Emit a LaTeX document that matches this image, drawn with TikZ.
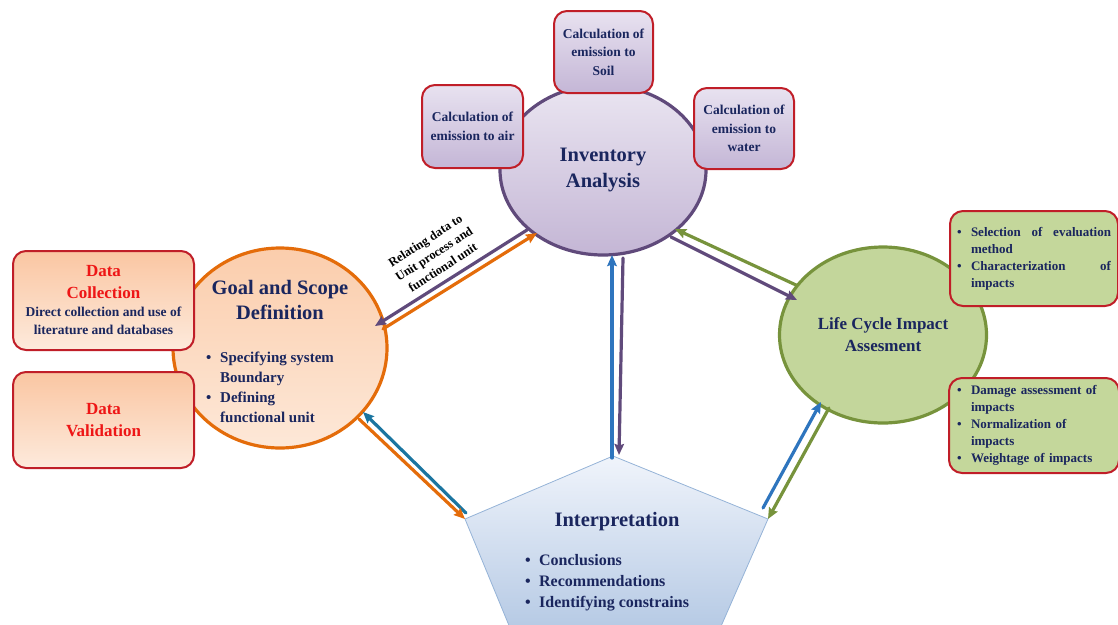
\documentclass[tikz,border=0pt]{standalone}
\usepackage{fontspec}
\setmainfont{Liberation Serif}
\usetikzlibrary{shapes.geometric,arrows.meta}
\definecolor{navytxt}{RGB}{26,38,94}
\definecolor{boxred}{RGB}{192,30,40}
\definecolor{datared}{RGB}{238,22,22}
\definecolor{goalorange}{RGB}{228,108,10}
\definecolor{invpurple}{RGB}{96,74,123}
\definecolor{lcagreen}{RGB}{119,147,60}
\definecolor{arrblue}{RGB}{46,117,190}
\definecolor{arrteal}{RGB}{27,117,160}
\definecolor{penborder}{RGB}{149,179,215}
\newcommand{\bul}{\makebox[14pt][l]{\textbullet}}
\newcommand{\bulsp}{\hspace*{14pt}}

\begin{document}
\begin{tikzpicture}[x=1pt,y=-1pt,line cap=round,line join=round,
	redbox/.style={draw=boxred,line width=2pt,rounded corners=13pt,anchor=north west,inner sep=0pt,align=center,text=navytxt},
	invbox/.style={redbox,top color={rgb,255:red,232;green,226;blue,240},bottom color={rgb,255:red,196;green,182;blue,214},font=\bfseries\fontsize{13.5}{18.5}\selectfont},
	databox/.style={redbox,top color={rgb,255:red,250;green,198;blue,162},bottom color={rgb,255:red,253;green,234;blue,220}},
	lcabox/.style={redbox,fill={rgb,255:red,196;green,215;blue,155},font=\bfseries\fontsize{13}{17}\selectfont,align=left},
	titletxt/.style={font=\bfseries\fontsize{20.5}{25.5}\selectfont,text=navytxt,align=center},
	listtxt/.style={text=navytxt,align=left,inner sep=0pt},
	arr/.style={line width=3.2pt,-{Stealth[length=11pt,width=9.5pt,inset=1.5pt]}}]
	\clip (0,0) rectangle (1118,624);
	% main shapes
	\node[ellipse,draw=goalorange,line width=3.2pt,top color={rgb,255:red,251;green,205;blue,172},bottom color={rgb,255:red,253;green,232;blue,216},minimum width=214pt,minimum height=200pt] (goal) at (280,348) {};
	\node[ellipse,draw=invpurple,line width=3.2pt,top color={rgb,255:red,234;green,229;blue,241},bottom color={rgb,255:red,196;green,182;blue,213},minimum width=206pt,minimum height=170pt,titletxt] (inv) at (603,170) {Inventory\\Analysis};
	\node[ellipse,draw=lcagreen,line width=3.2pt,fill={rgb,255:red,195;green,214;blue,155},minimum width=207pt,minimum height=176pt,titletxt,font=\bfseries\fontsize{17}{22}\selectfont] (lca) at (883,335) {Life Cycle Impact\\Assesment};
	\path[draw=penborder,line width=0.8pt,top color={rgb,255:red,240;green,244;blue,251},bottom color={rgb,255:red,178;green,199;blue,227}]
		(613,456) coordinate (pTop) -- (768,519) coordinate (pRight) -- (715,640) -- (515,640) -- (465,519) coordinate (pLeft) -- cycle;
	% texts in the shapes
	\node[titletxt] (goaltitle) at (280,300) {Goal and Scope\\Definition};
	\node[listtxt,anchor=west,font=\bfseries\fontsize{15}{20}\selectfont] (goallist) at (206,387) {\bul Specifying system\\\bulsp Boundary\\\bul Defining\\\bulsp functional unit};
	\node[titletxt] (interp) at (617,522) {Interpretation};
	\node[listtxt,anchor=west,font=\bfseries\fontsize{16}{21}\selectfont] (interplist) at (525,583) {\bul Conclusions\\\bul Recommendations\\\bul Identifying constrains};
	% boxes
	\node[invbox,minimum width=99pt,minimum height=82pt] (soil) at (553,10) {Calculation of\\emission to\\Soil};
	\node[invbox,minimum width=101pt,minimum height=83pt] (air) at (421,84) {Calculation of\\emission to air};
	\node[invbox,minimum width=100pt,minimum height=81pt] (water) at (693,87) {Calculation of\\emission to\\water};
	\node[databox,minimum width=181pt,minimum height=99pt,font=\bfseries\fontsize{13.5}{18}\selectfont] (collect) at (12,250) {{\color{datared}\fontsize{17}{22}\selectfont Data}\\[4pt]{\color{datared}\fontsize{17}{22}\selectfont Collection}\\Direct collection and use of\\literature and databases};
	\node[databox,minimum width=181pt,minimum height=96pt,text=datared,font=\bfseries\fontsize{17}{22}\selectfont] (valid) at (12,371) {Data\\Validation};
	\node[lcabox,minimum height=95pt,text width=154pt,inner xsep=7pt] (lcatop) at (949,210) {\bul Selection\hfill of\hfill evaluation\\\bulsp method\\\bul Characterization\hfill of\\\bulsp impacts};
	\node[lcabox,minimum height=95pt,text width=154pt,inner xsep=8pt] (lcabot) at (948,377) {\bul Damage assessment of\\\bulsp impacts\\\bul Normalization of\\\bulsp impacts\\\bul Weightage of impacts};
	% connector label
	\node[rotate=33,font=\bfseries\fontsize{12.5}{16}\selectfont,align=center,inner sep=0pt] (relabel) at (434,254) {Relating data to\\Unit process and\\functional unit};
	% arrow ends
	\coordinate (invSW) at (527,230);
	\coordinate (goalNE) at (375,326);
	\coordinate (goalNEb) at (383,329);
	\coordinate (invSWb) at (537,233);
	\coordinate (invS) at (612,255);
	\coordinate (invSb) at (623,258);
	\coordinate (pTopb) at (619,455);
	\coordinate (pLeftb) at (466,513);
	\coordinate (goalSE) at (363,412);
	\coordinate (goalSEb) at (359,419);
	\coordinate (pRightb) at (763,508);
	\coordinate (lcaSW) at (821,402);
	\coordinate (lcaSWb) at (829,408);
	\coordinate (lcaNW) at (796,285);
	\coordinate (invSE) at (675,229);
	\coordinate (invSEb) at (671,237);
	\coordinate (lcaNWb) at (797,300);
	% arrows
	\draw[arr,invpurple] (invSW) -- (goalNE);
	\draw[arr,goalorange] (goalNEb) -- (invSWb);
	\draw[arr,arrblue] (612,458) -- (invS);
	\draw[arr,invpurple] (invSb) -- (pTopb);
	\draw[arr,arrteal] (pLeftb) -- (goalSE);
	\draw[arr,goalorange] (goalSEb) -- (pLeft);
	\draw[arr,arrblue] (pRightb) -- (lcaSW);
	\draw[arr,lcagreen] (lcaSWb) -- (pRight);
	\draw[arr,lcagreen] (lcaNW) -- (invSE);
	\draw[arr,invpurple] (invSEb) -- (lcaNWb);
\end{tikzpicture}
\end{document}
